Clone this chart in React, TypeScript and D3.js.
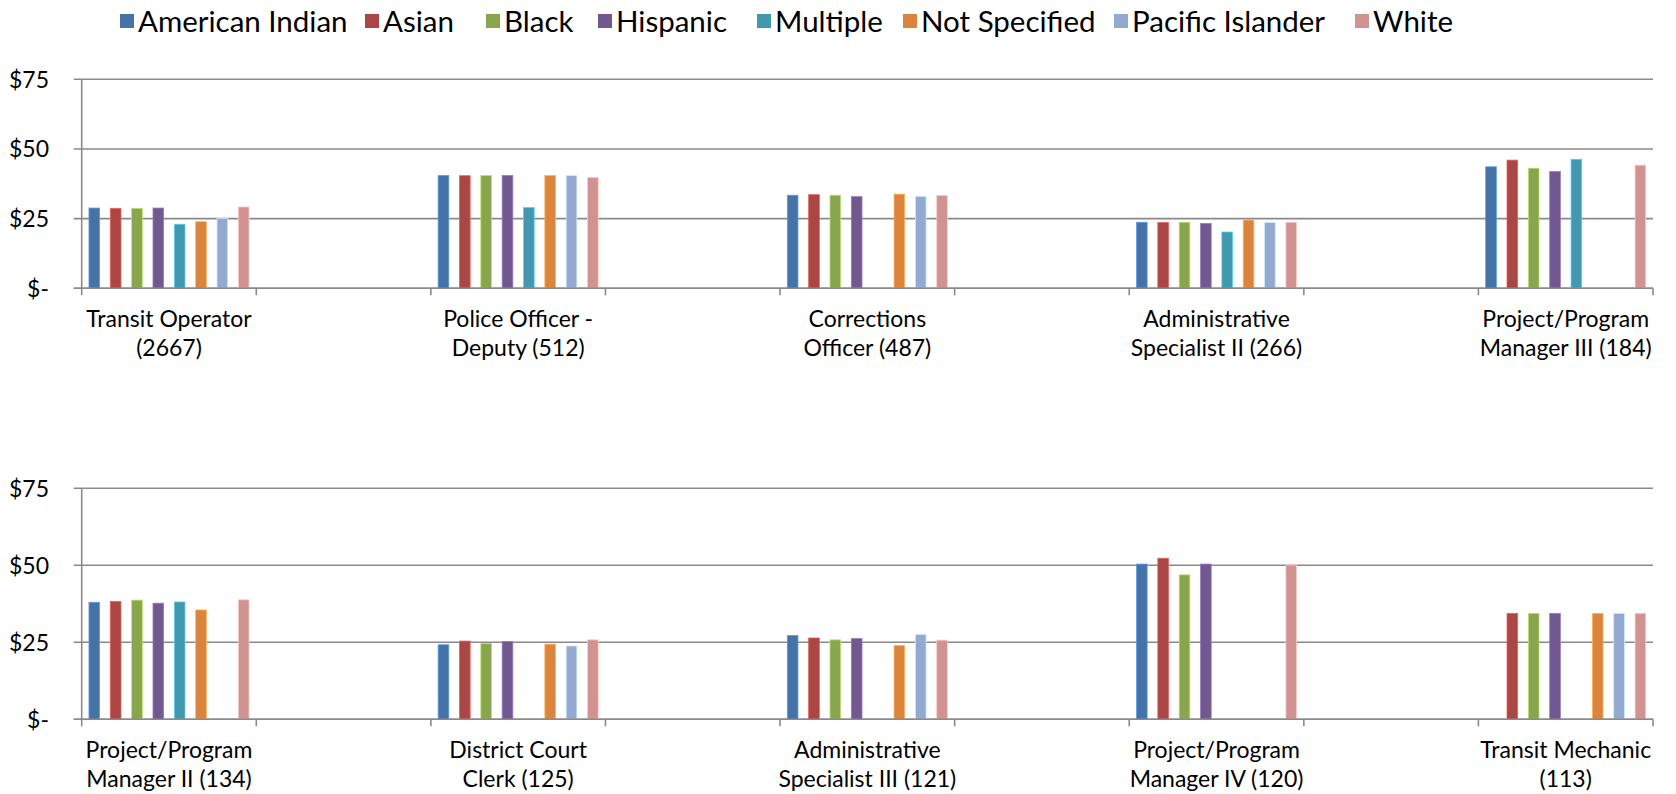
import * as d3 from "d3";
import { useEffect, useRef } from "react";

// series (legend order) and colours
const series = [
  "American Indian",
  "Asian",
  "Black",
  "Hispanic",
  "Multiple",
  "Not Specified",
  "Pacific Islander",
  "White",
];
const colors = [
  "#4572A7",
  "#AA4643",
  "#89A54E",
  "#71588F",
  "#4198AF",
  "#DB843D",
  "#93A9CF",
  "#D19392",
];

const yTicks = [0, 25, 50, 75];
const yTickLabels = ["$-", "$25", "$50", "$75"];

// top chart
const topCategories = [
  ["Transit Operator", "(2667)"],
  ["Police Officer -", "Deputy (512)"],
  ["Corrections", "Officer (487)"],
  ["Administrative", "Specialist II (266)"],
  ["Project/Program", "Manager III (184)"],
];
// one row per category, one value per series (null = no bar)
const topValues: (number | null)[][] = [
  [28.8, 28.7, 28.7, 28.8, 23.0, 23.9, 25.1, 29.2],
  [40.5, 40.4, 40.5, 40.5, 29.0, 40.5, 40.5, 39.8],
  [33.4, 33.6, 33.4, 32.9, null, 33.8, 33.0, 33.3],
  [23.7, 23.6, 23.7, 23.3, 20.2, 24.5, 23.6, 23.7],
  [43.6, 46.0, 43.1, 41.9, 46.3, null, null, 44.2],
];

// bottom chart
const bottomCategories = [
  ["Project/Program", "Manager II (134)"],
  ["District Court", "Clerk (125)"],
  ["Administrative", "Specialist III (121)"],
  ["Project/Program", "Manager IV (120)"],
  ["Transit Mechanic", "(113)"],
];
const bottomValues: (number | null)[][] = [
  [38.0, 38.3, 38.7, 37.7, 38.1, 35.5, null, 38.8],
  [24.2, 25.4, 24.6, 25.3, null, 24.4, 23.8, 25.8],
  [27.2, 26.4, 25.8, 26.2, null, 24.0, 27.5, 25.7],
  [50.4, 52.3, 46.9, 50.4, null, null, null, 50.1],
  [null, 34.4, 34.4, 34.4, null, 34.4, 34.4, 34.4],
];

const W = 1676;
const H = 794;
// legend swatch positions (layout)
const legendX = [120, 365, 486, 598, 757, 903, 1114, 1355];

export default function App() {
  const svgRef = useRef<SVGSVGElement>(null);

  useEffect(() => {
    if (!svgRef.current) return;
    const svg = d3.select(svgRef.current);
    svg.selectAll("*").remove();
    const font = "Lato, 'Open Sans', sans-serif";
    const grid = "#8a8a8a";

    // legend
    const legend = svg
      .append("g")
      .attr("font-family", font)
      .attr("font-size", 29.5)
      .attr("fill", "#000")
      .attr("transform", "translate(0,21)");
    series.forEach((s, i) => {
      const g = legend
        .append("g")
        .attr("transform", `translate(${legendX[i]},0)`);
      g.append("rect")
        .attr("x", 0)
        .attr("y", -7)
        .attr("width", 14)
        .attr("height", 14)
        .attr("fill", colors[i]);
      g.append("text")
        .attr("x", 18)
        .attr("y", 0)
        .attr("dy", "0.36em")
        .text(s);
    });

    // one panel
    const drawPanel = (
      categories: string[][],
      values: (number | null)[][],
      top: number,
      bottom: number,
    ) => {
      const left = 81.7;
      const right = 1653;
      const g = svg.append("g").attr("font-family", font);

      const y = d3.scaleLinear().domain([0, 75]).range([bottom, top]);
      // 9 slots: filled categories sit on the even ones
      const x0 = d3
        .scaleBand<number>()
        .domain(d3.range(categories.length * 2 - 1))
        .range([left, right]);
      const x1 = d3
        .scaleBand<string>()
        .domain(series)
        .range([0, x0.bandwidth()])
        .paddingInner(0.5)
        .paddingOuter(0.34);

      // gridlines + y ticks
      g.selectAll(".grid")
        .data(yTicks)
        .enter()
        .append("line")
        .attr("x1", left - 8)
        .attr("x2", right)
        .attr("y1", (d) => y(d))
        .attr("y2", (d) => y(d))
        .attr("stroke", grid)
        .attr("stroke-width", 1.6);

      g.selectAll(".ylab")
        .data(yTicks)
        .enter()
        .append("text")
        .attr("x", 49)
        .attr("y", (d) => y(d))
        .attr("dy", "0.36em")
        .attr("text-anchor", "end")
        .attr("font-size", 23)
        .text((d, i) => yTickLabels[i]);

      // y axis
      g.append("line")
        .attr("x1", left)
        .attr("x2", left)
        .attr("y1", top)
        .attr("y2", bottom + 7)
        .attr("stroke", grid)
        .attr("stroke-width", 1.6);

      // x ticks at every slot boundary
      const bounds = x0.domain().map((d) => x0(d)! + x0.bandwidth());
      g.selectAll(".xtick")
        .data(bounds)
        .enter()
        .append("line")
        .attr("x1", (d) => d)
        .attr("x2", (d) => d)
        .attr("y1", bottom)
        .attr("y2", bottom + 7)
        .attr("stroke", grid)
        .attr("stroke-width", 1.6);

      // bars
      categories.forEach((cat, ci) => {
        const cx = x0(ci * 2)!;
        const bars = values[ci]
          .map((v, si) => ({ v, s: series[si], c: colors[si] }))
          .filter((d) => d.v !== null) as { v: number; s: string; c: string }[];
        g.selectAll(`.bar${ci}`)
          .data(bars)
          .enter()
          .append("rect")
          .attr("x", (d) => cx + x1(d.s)!)
          .attr("y", (d) => y(d.v))
          .attr("width", x1.bandwidth())
          .attr("height", (d) => bottom - y(d.v))
          .attr("fill", (d) => d.c)
          .attr("stroke", (d) => d3.color(d.c)!.brighter(0.9).formatHex())
          .attr("stroke-width", 0.8);

        // two-line category label
        const t = g
          .append("text")
          .attr("text-anchor", "middle")
          .attr("font-size", 23);
        cat.forEach((line, li) => {
          t.append("tspan")
            .attr("x", cx + x0.bandwidth() / 2)
            .attr("y", bottom + 30 + li * 29.5)
            .attr("dy", "0.36em")
            .text(line);
        });
      });

      // x axis line
      g.append("line")
        .attr("x1", left - 8)
        .attr("x2", right)
        .attr("y1", bottom)
        .attr("y2", bottom)
        .attr("stroke", grid)
        .attr("stroke-width", 1.6);
    };

    drawPanel(topCategories, topValues, 79.3, 288.3);
    drawPanel(bottomCategories, bottomValues, 488.3, 719.3);
  }, []);

  return (
    <svg
      ref={svgRef}
      width={W}
      height={H}
      style={{ position: "absolute", left: 0, top: 0, background: "#fff" }}
    />
  );
}
